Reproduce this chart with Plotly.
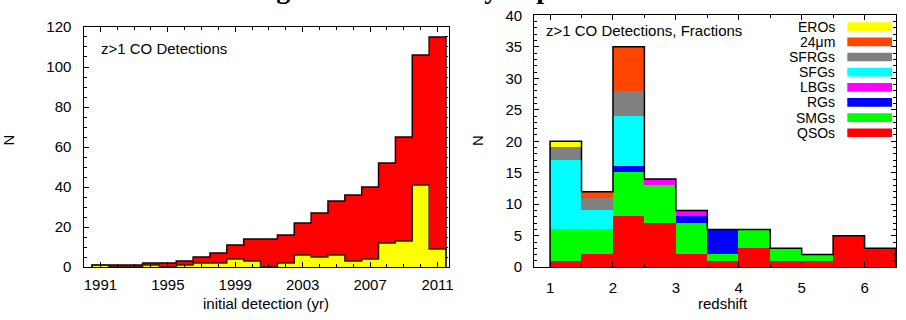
import plotly.graph_objects as go

# ---- left panel: CO detections per year of first detection ----
years = list(range(1991, 2012))
new_per_year = [1, 0, 0, 1, 0, 1, 2, 2, 4, 3, 0, 2, 6, 5, 6, 3, 4, 12, 13, 41, 9]
cumulative = [1, 1, 1, 2, 2, 3, 5, 7, 11, 14, 14, 16, 22, 27, 33, 36, 40, 52, 65, 106, 115]
year_ticks = [1991, 1995, 1999, 2003, 2007, 2011]

# ---- right panel: detections per redshift bin, split by galaxy population ----
z_lo = [1.0, 1.5, 2.0, 2.5, 3.0, 3.5, 4.0, 4.5, 5.0, 5.5, 6.0]
z_width = 0.5
qsos = [1, 2, 8, 7, 2, 1, 3, 1, 1, 5, 3]
smgs = [5, 4, 7, 6, 5, 1, 3, 2, 1, 0, 0]
rgs = [0, 0, 1, 0, 1, 4, 0, 0, 0, 0, 0]
lbgs = [0, 0, 0, 1, 1, 0, 0, 0, 0, 0, 0]
sfgs = [11, 3, 8, 0, 0, 0, 0, 0, 0, 0, 0]
sfrgs = [2, 2, 4, 0, 0, 0, 0, 0, 0, 0, 0]
mips24 = [0, 1, 7, 0, 0, 0, 0, 0, 0, 0, 0]
eros = [1, 0, 0, 0, 0, 0, 0, 0, 0, 0, 0]

populations = [  # stacked bottom -> top
    ("QSOs", qsos, "#FF0000"),
    ("SMGs", smgs, "#00FF00"),
    ("RGs", rgs, "#0000FF"),
    ("LBGs", lbgs, "#FF00FF"),
    ("SFGs", sfgs, "#00FFFF"),
    ("SFRGs", sfrgs, "#808080"),
    ("24\u03bcm", mips24, "#FF4500"),
    ("EROs", eros, "#FFFF00"),
]

W, H = 906, 320
FONT = "Liberation Sans, Arial, Helvetica, sans-serif"


def px(x):
    return x / W


def py(y):
    return 1 - y / H


def step_outline(lo_edges, width, values):
    """Closed step outline (x, y) around a histogram."""
    xs = [lo_edges[0], lo_edges[0]] + list(lo_edges[1:]) + [lo_edges[-1] + width] * 2
    ys = [0] + list(values) + [values[-1], 0]
    return xs, ys


fig = go.Figure()

# left panel bars
year_lo = [y - 0.5 for y in years]
fig.add_trace(go.Bar(x=years, y=cumulative, width=1, marker=dict(color="#FF0000", line_width=0),
                     xaxis="x", yaxis="y", showlegend=False))
xs, ys = step_outline(year_lo, 1, cumulative)
fig.add_trace(go.Scatter(x=xs, y=ys, mode="lines", line=dict(color="#1a0000", width=1.5, shape="hv"),
                         xaxis="x", yaxis="y", showlegend=False, hoverinfo="skip"))
fig.add_trace(go.Bar(x=years, y=new_per_year, width=1, marker=dict(color="#FFFF00", line_width=0),
                     xaxis="x", yaxis="y", showlegend=False))
xs, ys = step_outline(year_lo, 1, new_per_year)
fig.add_trace(go.Scatter(x=xs, y=ys, mode="lines", line=dict(color="#2a2a00", width=1.5, shape="hv"),
                         xaxis="x", yaxis="y", showlegend=False, hoverinfo="skip"))

# right panel stacked bars
base = [0] * len(z_lo)
for name, vals, color in populations:
    fig.add_trace(go.Bar(x=z_lo, y=vals, base=list(base), width=z_width, offset=0,
                         marker=dict(color=color, line_width=0), name=name,
                         xaxis="x2", yaxis="y2", showlegend=False))
    base = [b + v for b, v in zip(base, vals)]
xs, ys = step_outline(z_lo, z_width, base)
fig.add_trace(go.Scatter(x=xs, y=ys, mode="lines", line=dict(color="black", width=1.5, shape="hv"),
                         xaxis="x2", yaxis="y2", showlegend=False, hoverinfo="skip"))

axis_common = dict(showline=True, linecolor="black", linewidth=1.3, mirror="ticks",
                   ticks="inside", ticklen=5, tickwidth=1, tickcolor="black",
                   showgrid=False, zeroline=False, tickfont=dict(family=FONT, size=15, color="black"))

fig.update_layout(
    width=W, height=H,
    margin=dict(l=0, r=0, t=0, b=0),
    paper_bgcolor="white", plot_bgcolor="white",
    barmode="overlay", bargap=0,
    xaxis=dict(domain=[px(84), px(451)], range=[1990, 2011.65], tickvals=year_ticks,
               minor=dict(dtick=1, tick0=1990, ticks="inside", ticklen=3, tickcolor="black"),
               ticklabelstandoff=4, anchor="y", **axis_common),
    yaxis=dict(domain=[py(272.5), py(19)], range=[0, 120], dtick=20,
               minor=dict(dtick=5, ticks="inside", ticklen=3, tickcolor="black"),
               ticklabelstandoff=8, anchor="x", **axis_common),
    xaxis2=dict(domain=[px(537.3), px(901)], range=[0.75, 6.5], dtick=1, tick0=0,
                minor=dict(dtick=0.5, tick0=0, ticks="inside", ticklen=3, tickcolor="black"),
                ticklabelstandoff=7, anchor="y2", **axis_common),
    yaxis2=dict(domain=[py(272.7), py(6.7)], range=[0, 40], dtick=5,
                minor=dict(dtick=1, ticks="inside", ticklen=3, tickcolor="black"),
                ticklabelstandoff=8, anchor="x2", **axis_common),
)

ann = []


def text(x, y, s, size=15, xanchor="center", yanchor="middle", angle=0, family=FONT):
    ann.append(dict(x=px(x), y=py(y), xref="paper", yref="paper", text=s, showarrow=False,
                    xanchor=xanchor, yanchor=yanchor, textangle=angle,
                    font=dict(family=family, size=size, color="black")))


# figure title, running off the top edge of the page
text(340, -3, "<b>CO Detections among Different Galaxy Populations</b>", size=28,
     yanchor="bottom", family="Liberation Serif, Times New Roman, serif")
text(100, 41.5, "z>1 CO Detections", xanchor="left")
text(547, 23, "z>1 CO Detections, Fractions", xanchor="left")
text(9, 138, "N", angle=-90)
text(480, 139, "N", angle=-90)
text(267.5, 311, "initial detection (yr)")
text(726.7, 311, "redshift")

# legend: labels right-aligned beside colour swatches, top entry = top of stack
shapes = []
for i, (name, vals, color) in enumerate(reversed(populations)):
    yc = 18.7 + 16 * i
    text(842, yc, name, size=14, xanchor="right")
    shapes.append(dict(type="rect", xref="paper", yref="paper", x0=px(852), x1=px(897),
                       y0=py(yc + 4.6), y1=py(yc - 4.6), fillcolor=color, line_width=0))

fig.update_layout(annotations=ann, shapes=shapes)
fig.write_html("out.html")
